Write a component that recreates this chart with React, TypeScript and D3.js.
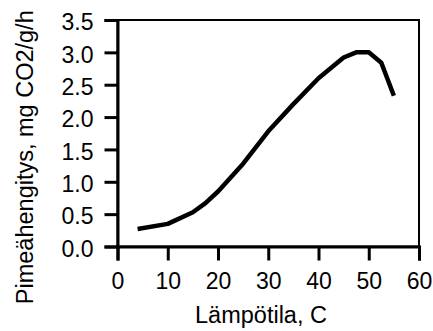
import { useEffect, useRef } from 'react';
import * as d3 from 'd3';

// temperature (C) vs dark respiration (mg CO2/g/h)
const temps = [4, 10, 15, 17.5, 20, 25, 30, 35, 40, 45, 47.5, 50, 52.5, 55];
const resp = [0.27, 0.35, 0.53, 0.67, 0.85, 1.28, 1.78, 2.2, 2.6, 2.92, 3.0, 3.0, 2.84, 2.33];
const xTicks = [0, 10, 20, 30, 40, 50, 60];
const yTicks = [0, 0.5, 1, 1.5, 2, 2.5, 3, 3.5];

export default function App() {
  const ref = useRef<SVGSVGElement>(null);

  useEffect(() => {
    if (!ref.current) return;
    const svg = d3.select(ref.current);
    svg.selectAll('*').remove();

    const width = 433;
    const height = 331;
    const left = 117.5;
    const right = 419;
    const top = 20;
    const bottom = 246.5;
    const font = 'Liberation Sans, Arial, sans-serif';

    const x = d3.scaleLinear().domain([0, 60]).range([left, right]);
    const y = d3.scaleLinear().domain([0, 3.5]).range([bottom, top]);

    // frame: top and right thinner
    svg
      .append('rect')
      .attr('x', left)
      .attr('y', top)
      .attr('width', right - left)
      .attr('height', bottom - top)
      .attr('fill', 'none')
      .attr('stroke', '#000')
      .attr('stroke-width', 2);

    const xAxis = svg
      .append('g')
      .attr('transform', `translate(0,${bottom})`)
      .call(d3.axisBottom(x).tickValues(xTicks).tickSize(14).tickPadding(12).tickFormat(d3.format('d')));
    xAxis.select('.domain').attr('stroke-width', 3);
    xAxis.selectAll('line').attr('stroke-width', 3);
    xAxis.selectAll('text').attr('font-family', font).attr('font-size', 23).attr('fill', '#000');

    const yAxis = svg
      .append('g')
      .attr('transform', `translate(${left},0)`)
      .call(d3.axisLeft(y).tickValues(yTicks).tickSize(13).tickPadding(11).tickFormat(d3.format('.1f')));
    yAxis.select('.domain').attr('stroke-width', 3);
    yAxis.selectAll('line').attr('stroke-width', 3);
    yAxis
      .selectAll('text')
      .attr('font-family', font)
      .attr('font-size', 23)
      .attr('dy', '0.42em')
      .attr('fill', '#000');

    const line = d3
      .line<number>()
      .x((d, i) => x(temps[i]))
      .y((d) => y(d));

    svg
      .append('path')
      .datum(resp)
      .attr('d', line)
      .attr('fill', 'none')
      .attr('stroke', '#000')
      .attr('stroke-width', 4.5)
      .attr('stroke-linejoin', 'round');

    svg
      .append('text')
      .attr('x', 261)
      .attr('y', 323)
      .attr('text-anchor', 'middle')
      .attr('font-family', font)
      .attr('font-size', 23.5)
      .text('Lämpötila, C');

    svg
      .append('text')
      .attr('transform', `translate(33,${(top + bottom) / 2 + 24}) rotate(-90)`)
      .attr('text-anchor', 'middle')
      .attr('font-family', font)
      .attr('font-size', 23.5)
      .text('Pimeähengitys, mg CO2/g/h');

    svg.attr('width', width).attr('height', height);
  }, []);

  return <svg ref={ref} style={{ position: 'absolute', left: 0, top: 0, background: '#fff' }} />;
}
